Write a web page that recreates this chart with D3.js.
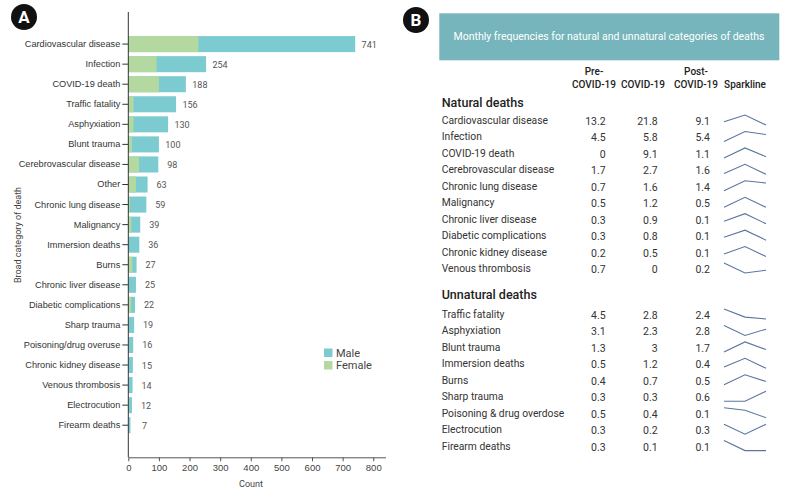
<!DOCTYPE html>
<html>
<head>
<meta charset="utf-8">
<script src="https://cdn.jsdelivr.net/npm/d3@7"></script>
<style>
  body { margin: 0; background: #fff; }
  svg { font-family: Roboto, "Noto Sans", sans-serif; }
</style>
</head>
<body>
<svg id="chart" width="790" height="491"></svg>
<script>
// panel A data
var categories = ["Cardiovascular disease", "Infection", "COVID-19 death", "Traffic fatality",
  "Asphyxiation", "Blunt trauma", "Cerebrovascular disease", "Other", "Chronic lung disease",
  "Malignancy", "Immersion deaths", "Burns", "Chronic liver disease", "Diabetic complications",
  "Sharp trauma", "Poisoning/drug overuse", "Chronic kidney disease", "Venous thrombosis",
  "Electrocution", "Firearm deaths"];
var totals = [741, 254, 188, 156, 130, 100, 98, 63, 59, 39, 36, 27, 25, 22, 19, 16, 15, 14, 12, 7];
var female = [229, 92, 100, 17, 17, 12, 35, 25, 5, 10, 2, 13, 1, 9, 1, 2, 1, 1, 1, 0];
var xTicks = [0, 100, 200, 300, 400, 500, 600, 700, 800];

// panel B data
var periods = ["Pre-COVID-19", "COVID-19", "Post-COVID-19"];
var naturalNames = ["Cardiovascular disease", "Infection", "COVID-19 death", "Cerebrovascular disease",
  "Chronic lung disease", "Malignancy", "Chronic liver disease", "Diabetic complications",
  "Chronic kidney disease", "Venous thrombosis"];
var naturalVals = [[13.2, 21.8, 9.1], [4.5, 5.8, 5.4], [0, 9.1, 1.1], [1.7, 2.7, 1.6], [0.7, 1.6, 1.4],
  [0.5, 1.2, 0.5], [0.3, 0.9, 0.1], [0.3, 0.8, 0.1], [0.2, 0.5, 0.1], [0.7, 0, 0.2]];
var unnaturalNames = ["Traffic fatality", "Asphyxiation", "Blunt trauma", "Immersion deaths", "Burns",
  "Sharp trauma", "Poisoning & drug overdose", "Electrocution", "Firearm deaths"];
var unnaturalVals = [[4.5, 2.8, 2.4], [3.1, 2.3, 2.8], [1.3, 3, 1.7], [0.5, 1.2, 0.4], [0.4, 0.7, 0.5],
  [0.3, 0.3, 0.6], [0.5, 0.4, 0.1], [0.3, 0.2, 0.3], [0.3, 0.1, 0.1]];

var MALE = "#7ccbd1", FEMALE = "#b4d9a0", HEAD = "#76b5bc", SPARK = "#5a76a0";

var svg = d3.select("#chart");

function badge(cx, cy, letter) {
  svg.append("circle").attr("cx", cx).attr("cy", cy).attr("r", 13).attr("fill", "#111");
  svg.append("text").attr("x", cx).attr("y", cy + 6).attr("text-anchor", "middle")
    .attr("fill", "#fff").attr("font-size", 17).attr("font-weight", "bold").text(letter);
}

// ---- panel A ----
var x = d3.scaleLinear().domain([0, 840]).range([128.3, 385.5]);
var y = d3.scaleBand().domain(categories).range([12, 457.3]).paddingInner(0.2).paddingOuter(1.2);

var gA = svg.append("g");

gA.selectAll("rect.male").data(categories).enter().append("rect")
  .attr("x", x(0))
  .attr("y", d => y(d))
  .attr("width", (d, i) => x(totals[i]) - x(0))
  .attr("height", y.bandwidth())
  .attr("fill", MALE);

gA.selectAll("rect.female").data(categories).enter().append("rect")
  .attr("x", x(0))
  .attr("y", d => y(d))
  .attr("width", (d, i) => x(female[i]) - x(0))
  .attr("height", y.bandwidth())
  .attr("fill", FEMALE);

gA.selectAll("text.val").data(categories).enter().append("text")
  .attr("x", (d, i) => x(totals[i]) + 14)
  .attr("y", d => y(d) + y.bandwidth() / 2 + 3.5)
  .attr("text-anchor", "middle")
  .attr("font-size", 9)
  .attr("fill", "#555")
  .text((d, i) => totals[i]);

var yAxis = gA.append("g").attr("transform", "translate(" + x(0) + ",0)")
  .call(d3.axisLeft(y).tickSize(6).tickPadding(2));
yAxis.select(".domain").attr("d", "M0,12V457.3").attr("stroke", "#333");
yAxis.selectAll(".tick line").attr("stroke", "#333");
yAxis.selectAll("text").attr("font-size", 9.2).attr("fill", "#333").attr("font-family", null);

var xAxis = gA.append("g").attr("transform", "translate(0,457.3)")
  .call(d3.axisBottom(x).tickValues(xTicks).tickSize(4).tickSizeOuter(0));
xAxis.select(".domain").attr("stroke", "#555");
xAxis.selectAll(".tick line").attr("stroke", "#555");
xAxis.selectAll("text").attr("font-size", 9.5).attr("fill", "#444").attr("font-family", null);

gA.append("text").attr("x", 251).attr("y", 487).attr("text-anchor", "middle")
  .attr("font-size", 9).attr("fill", "#444").text("Count");
gA.append("text").attr("transform", "translate(21,235) rotate(-90)").attr("text-anchor", "middle")
  .attr("font-size", 9).attr("fill", "#444").text("Broad category of death");

var legend = [["Male", MALE], ["Female", FEMALE]];
legend.forEach(function(l, i) {
  gA.append("rect").attr("x", 324).attr("y", 348.5 + i * 12.5).attr("width", 8.5).attr("height", 8.5)
    .attr("fill", l[1]);
  gA.append("text").attr("x", 336).attr("y", 356.5 + i * 12.5).attr("font-size", 11)
    .attr("fill", "#444").text(l[0]);
});

badge(24, 17, "A");

// ---- panel B ----
badge(416, 20, "B");
var gB = svg.append("g");
gB.append("rect").attr("x", 439.3).attr("y", 13.3).attr("width", 340).attr("height", 47).attr("fill", HEAD);
gB.append("text").attr("x", 609).attr("y", 40).attr("text-anchor", "middle").attr("fill", "#fff")
  .attr("font-size", 10.5).text("Monthly frequencies for natural and unnatural categories of deaths");

var colRight = [605.7, 657.7, 710];
var colCenter = [594, 643, 696];
var headers = [["Pre-", "COVID-19"], ["", "COVID-19"], ["Post-", "COVID-19"]];
headers.forEach(function(h, i) {
  gB.append("text").attr("x", colCenter[i]).attr("y", 75).attr("text-anchor", "middle")
    .attr("font-size", 10).attr("font-weight", 500).attr("fill", "#222").text(h[0]);
  gB.append("text").attr("x", colCenter[i]).attr("y", 88).attr("text-anchor", "middle")
    .attr("font-size", 10).attr("font-weight", 500).attr("fill", "#222").text(h[1]);
});
gB.append("text").attr("x", 745).attr("y", 88).attr("text-anchor", "middle")
  .attr("font-size", 10).attr("font-weight", 500).attr("fill", "#222").text("Sparkline");

var sx = d3.scalePoint().domain(periods).range([724, 766]);

function section(title, titleY, names, vals, firstY) {
  gB.append("text").attr("x", 441.7).attr("y", titleY + 4.5).attr("font-size", 12.5)
    .attr("font-weight", 500).attr("fill", "#222").text(title);
  var step = 16.45;
  names.forEach(function(n, r) {
    var cy = firstY + r * step;
    gB.append("text").attr("x", 441.7).attr("y", cy + 4).attr("font-size", 10.3)
      .attr("fill", "#333").text(n);
    vals[r].forEach(function(v, c) {
      gB.append("text").attr("x", colRight[c]).attr("y", cy + 5).attr("text-anchor", "end")
        .attr("font-size", 10.5).attr("fill", "#333").text(v);
    });
    var sy = d3.scaleLinear().domain(d3.extent(vals[r])).range([cy + 5, cy - 5]);
    var line = d3.line().x((d, i) => sx(periods[i])).y(d => sy(d));
    gB.append("path").attr("d", line(vals[r])).attr("fill", "none")
      .attr("stroke", SPARK).attr("stroke-width", 1.1);
  });
}
section("Natural deaths", 102, naturalNames, naturalVals, 120);
section("Unnatural deaths", 294, unnaturalNames, unnaturalVals, 314);
</script>
</body>
</html>
